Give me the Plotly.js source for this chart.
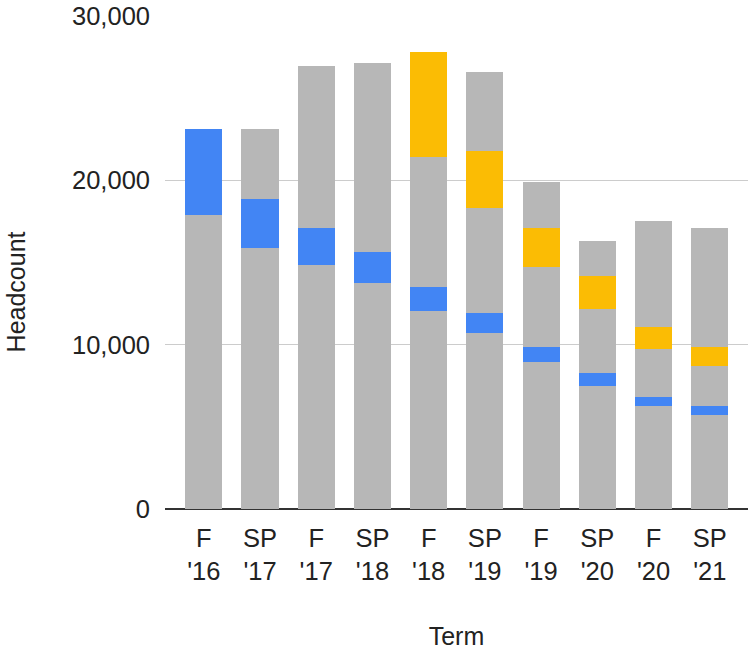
<!DOCTYPE html>
<html>
<head>
<meta charset="utf-8">
<script src="https://cdn.plot.ly/plotly-3.0.1.min.js"></script>
<style>html,body{margin:0;padding:0;background:#fff;}#chart{width:750px;height:650px;}</style>
</head>
<body>
<div id="chart"></div>
<script>
const terms = ["F<br>'16", "SP<br>'17", "F<br>'17", "SP<br>'18", "F<br>'18", "SP<br>'19", "F<br>'19", "SP<br>'20", "F<br>'20", "SP<br>'21"];
const grayLower = [17900, 15900, 14830, 13770, 12030, 10690, 8960, 7480, 6280, 5750];
const blueSeg   = [5200, 2950, 2270, 1850, 1460, 1210, 910, 810, 540, 530];
const grayMid   = [0, 4250, 9870, 11490, 7900, 6400, 4840, 3860, 2910, 2410];
const yellowSeg = [0, 0, 0, 0, 6390, 3480, 2390, 2030, 1360, 1180];
const grayUpper = [0, 0, 0, 0, 0, 4810, 2820, 2130, 6420, 7210];

const GRAY = '#b7b7b7', BLUE = '#4285f4', YELLOW = '#fbbc04';
function tr(name, y, color) {
  return {type: 'bar', name: name, x: terms, y: y, marker: {color: color}, width: 0.66,
          hovertemplate: '%{x}: %{y}<extra>' + name + '</extra>'};
}
const data = [
  tr('Gray (lower)', grayLower, GRAY),
  tr('Blue', blueSeg, BLUE),
  tr('Gray (middle)', grayMid, GRAY),
  tr('Yellow', yellowSeg, YELLOW),
  tr('Gray (upper)', grayUpper, GRAY)
];
const font = {family: 'Liberation Sans, Arial, sans-serif', size: 25.5, color: '#222'};
const titleFont = {family: 'Liberation Sans, Arial, sans-serif', size: 25, color: '#222'};
const layout = {
  width: 750, height: 650,
  barmode: 'stack',
  showlegend: false,
  paper_bgcolor: '#fff', plot_bgcolor: '#fff',
  font: font,
  margin: {l: 165, r: 2, t: 16, b: 141},
  xaxis: {
    type: 'category', range: [-0.69, 9.68], fixedrange: true,
    showgrid: false, zeroline: false, showline: false, ticks: '',
    tickfont: font, automargin: false, ticklabelstandoff: 11,
    title: {text: 'Term', font: titleFont, standoff: 48}
  },
  yaxis: {
    range: [0, 30000], tickvals: [0, 10000, 20000, 30000],
    tickformat: ',d', showgrid: true, gridcolor: '#cccccc', gridwidth: 1.5,
    zeroline: true, zerolinecolor: '#333333', zerolinewidth: 2,
    showline: false, ticks: '', ticklabelstandoff: 14,
    tickfont: font, automargin: false
  },
  annotations: [{
    text: 'Headcount', font: titleFont, textangle: -90,
    xref: 'paper', yref: 'paper', x: -0.255, y: 0.44,
    xanchor: 'center', yanchor: 'middle', showarrow: false
  }]
};
Plotly.newPlot('chart', data, layout, {displayModeBar: false, staticPlot: true});
</script>
</body>
</html>
